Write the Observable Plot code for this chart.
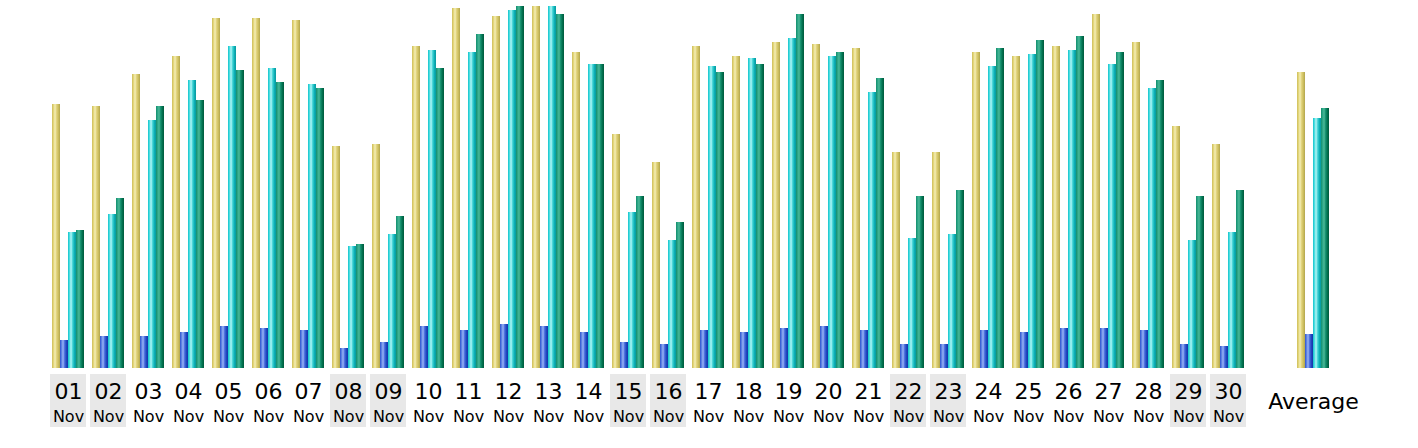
<!DOCTYPE html>
<html>
<head>
<meta charset="utf-8">
<script src="https://cdn.jsdelivr.net/npm/d3@7"></script>
<script src="https://cdn.jsdelivr.net/npm/@observablehq/plot@0.6"></script>
<style>
  body { margin: 0; background: #fff; }
  svg { display: block; }
</style>
</head>
<body>
<div id="chart"></div>
<script>
// ---- data ----
const days = ["01","02","03","04","05","06","07","08","09","10",
              "11","12","13","14","15","16","17","18","19","20",
              "21","22","23","24","25","26","27","28","29","30"];
const monthLabel = "Nov";
const weekendDays = ["01","02","08","09","15","16","22","23","29","30"];
const seriesKeys = ["yellow","blue","cyan","green"];
const yellowValues = [264,262,294,312,350,350,348,222,224,322,
                      360,352,362,316,234,206,322,312,326,324,
                      320,216,216,316,312,322,354,326,242,224];
const blueValues   = [28,32,32,36,42,40,38,20,26,42,
                      38,44,42,36,26,24,38,36,40,42,
                      38,24,24,38,36,40,40,38,24,22];
const cyanValues   = [136,154,248,288,322,300,284,122,134,318,
                      316,358,362,304,156,128,302,310,330,312,
                      276,130,134,302,314,318,304,280,128,136];
const greenValues  = [138,170,262,268,298,286,280,124,152,300,
                      334,362,354,304,172,146,296,304,354,316,
                      290,172,178,320,328,332,316,288,172,178];
const averageLabel = "Average";
const averageValues = [296,34,250,260];

// ---- table built from the arrays ----
const seriesValues = {yellow: yellowValues, blue: blueValues, cyan: cyanValues, green: greenValues};
const rows = [];
days.forEach((d, i) => seriesKeys.forEach(s => rows.push({group: d, series: s, value: seriesValues[s][i]})));
const avgRows = seriesKeys.map((s, j) => ({group: averageLabel, series: s, value: averageValues[j]}));
const groups = [...days, " ", averageLabel];

// cylinder-like gradients
const gradientStops = {
  yellow: [["0%","#cdbd5a"],["18%","#e2d578"],["38%","#f4eeb6"],["58%","#e0d27a"],["80%","#cbbd5e"],["100%","#b2a54e"]],
  blue:   [["0%","#2c52cc"],["18%","#5a7ee2"],["38%","#9ab4f4"],["58%","#4a6edc"],["80%","#2246c0"],["100%","#1436a6"]],
  cyan:   [["0%","#10c4cc"],["18%","#48dcdf"],["38%","#b4f6f6"],["58%","#44d4d6"],["80%","#0cb0b6"],["100%","#08969c"]],
  green:  [["0%","#138c6c"],["18%","#2aa484"],["38%","#4cb898"],["58%","#14906e"],["80%","#02704e"],["100%","#005a3c"]]
};
function gradientDefs() {
  const defs = d3.create("svg:defs");
  for (const s of seriesKeys) {
    const g = defs.append("linearGradient").attr("id", "grad-" + s)
      .attr("x1", "0").attr("x2", "1").attr("y1", "0").attr("y2", "0");
    for (const [o, c] of gradientStops[s]) g.append("stop").attr("offset", o).attr("stop-color", c);
  }
  return defs.node();
}

const font = "'DejaVu Sans', Verdana, sans-serif";
const avgShift = 5;

const chart = Plot.plot({
  width: 1418,
  height: 448,
  marginLeft: 44,
  marginRight: 86,
  marginTop: 0,
  marginBottom: 0,
  style: {background: "#fff", fontFamily: font},
  fx: {domain: groups, padding: 0.2, axis: null, label: null},
  x: {domain: seriesKeys, padding: 0, axis: null},
  y: {domain: [-80, 368], axis: null},
  marks: [
    gradientDefs,
    Plot.barY(weekendDays, {fx: d => d, y1: -6, y2: -59, fill: "#e8e8e8", insetLeft: -2, insetRight: -2}),
    ...seriesKeys.map(s => Plot.barY(rows.filter(r => r.series === s),
      {fx: "group", x: "series", y: "value", fill: `url(#grad-${s})`})),
    ...seriesKeys.map(s => Plot.barY(avgRows.filter(r => r.series === s),
      {fx: "group", x: "series", y: "value", fill: `url(#grad-${s})`, dx: avgShift})),
    Plot.text(days, {fx: d => d, y: -23, text: d => d, fontSize: 22, fill: "#000", fontFamily: font}),
    Plot.text(days, {fx: d => d, y: -48, text: () => monthLabel, fontSize: 16, fill: "#000", fontFamily: font}),
    Plot.text([averageLabel], {fx: d => d, y: -33.5, text: d => d, fontSize: 22, fill: "#000", fontFamily: font, dx: avgShift})
  ]
});
document.getElementById("chart").appendChild(chart);
</script>
</body>
</html>
